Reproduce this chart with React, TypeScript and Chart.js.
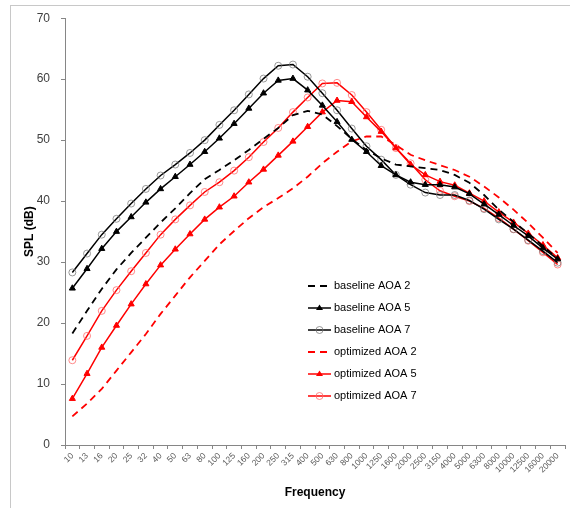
import React, { useEffect, useRef } from "react";
import { Chart, registerables } from "chart.js";

Chart.register(...registerables);

const frequencies = [
  "10", "13", "16", "20", "25", "32", "40", "50", "63", "80", "100", "125", "160", "200", "250", "315", "400",
  "500", "630", "800", "1000", "1250", "1600", "2000", "2500", "3150", "4000", "5000", "6300", "8000", "10000",
  "12500", "16000", "20000",
];

const baselineAoa2 = [
  18.3, 22.0, 25.6, 28.8, 31.5, 34.0, 36.5, 38.8, 41.3, 43.6, 45.1, 46.7, 48.4, 50.2, 52.0, 54.1, 54.8,
  54.2, 52.3, 50.2, 48.4, 47.0, 46.0, 45.7, 45.4, 45.1, 44.3, 43.0, 41.0, 38.6, 36.6, 34.7, 32.6, 30.6,
];
const baselineAoa5 = [
  25.7, 28.9, 32.2, 35.0, 37.4, 39.8, 42.0, 44.0, 46.0, 48.1, 50.3, 52.7, 55.2, 57.7, 59.8, 60.1, 58.2,
  55.7, 53.0, 50.1, 48.1, 45.8, 44.3, 43.1, 42.7, 42.7, 42.3, 41.2, 39.5, 37.8, 36.0, 34.3, 32.3, 30.5,
];
const baselineAoa7 = [
  28.3, 31.4, 34.5, 37.1, 39.6, 42.0, 44.2, 46.0, 47.9, 50.0, 52.5, 54.9, 57.5, 60.1, 62.2, 62.4, 60.4,
  57.7, 54.9, 51.9, 49.0, 46.8, 44.3, 42.7, 41.4, 41.0, 41.0, 40.1, 38.7, 37.0, 35.4, 33.6, 31.8, 29.9,
];
const optimizedAoa2 = [
  4.7, 6.8, 9.2, 12.2, 15.2, 18.2, 21.5, 24.5, 27.5, 30.2, 32.9, 35.1, 37.2, 39.0, 40.5, 42.1, 44.0,
  46.2, 48.1, 49.8, 50.6, 50.6, 49.2, 47.6, 46.7, 45.9, 45.1, 44.0, 42.4, 40.6, 38.6, 36.4, 34.0, 31.5,
];
const optimizedAoa5 = [
  7.6, 11.7, 16.0, 19.6, 23.1, 26.4, 29.5, 32.1, 34.6, 37.0, 39.0, 40.8, 43.1, 45.2, 47.5, 49.8, 52.2,
  54.6, 56.5, 56.3, 53.8, 51.4, 48.7, 46.0, 44.3, 43.2, 42.6, 41.3, 40.0, 38.2, 36.5, 34.7, 32.8, 30.7,
];
const optimizedAoa7 = [
  13.9, 17.9, 22.0, 25.4, 28.5, 31.5, 34.5, 37.0, 39.3, 41.5, 43.1, 45.0, 47.2, 49.7, 52.0, 54.6, 57.0,
  59.3, 59.4, 57.4, 54.6, 51.7, 48.7, 46.2, 43.5, 41.7, 40.8, 40.0, 38.8, 37.2, 35.4, 33.5, 31.6, 29.6,
];

const seriesLabels = [
  "baseline AOA 2",
  "baseline AOA 5",
  "baseline AOA 7",
  "optimized AOA 2",
  "optimized AOA 5",
  "optimized AOA 7",
];

const FONT = "'Liberation Sans', Arial, Helvetica, sans-serif";
const BLACK = "#000000";
const RED = "#ff0000";
const AXIS_GRAY = "#868686";

function drawMarker(ctx: CanvasRenderingContext2D, style: string, x: number, y: number, r: number, fill: string, stroke: string) {
  ctx.save();
  ctx.setLineDash([]);
  ctx.beginPath();
  if (style === "triangle") {
    const h = r * 1.5;
    ctx.moveTo(x, y - r);
    ctx.lineTo(x + h * 0.58 * 1.15, y + r * 0.6);
    ctx.lineTo(x - h * 0.58 * 1.15, y + r * 0.6);
    ctx.closePath();
    ctx.fillStyle = fill;
    ctx.fill();
  } else {
    ctx.arc(x, y, r, 0, Math.PI * 2);
    ctx.strokeStyle = stroke;
    ctx.lineWidth = 1;
    ctx.stroke();
  }
  ctx.restore();
}

const frameAndLegend = {
  id: "frameAndLegend",
  beforeDraw(chart: any) {
    const ctx = chart.ctx as CanvasRenderingContext2D;
    ctx.save();
    ctx.fillStyle = "#ffffff";
    ctx.fillRect(0, 0, chart.width, chart.height);
    ctx.strokeStyle = "#c8c8c8";
    ctx.lineWidth = 1;
    ctx.strokeRect(10.5, 5.5, 700, 700);
    ctx.restore();
  },
  afterDraw(chart: any) {
    const ctx = chart.ctx as CanvasRenderingContext2D;
    const x0 = 308;
    const x1 = 331;
    const tx = 334;
    const y0 = 286;
    const dy = 22;
    chart.data.datasets.forEach((ds: any, i: number) => {
      const y = y0 + i * dy;
      ctx.save();
      ctx.strokeStyle = ds.borderColor;
      ctx.lineWidth = ds.borderWidth;
      ctx.setLineDash(ds.borderDash || []);
      ctx.beginPath();
      ctx.moveTo(x0, y);
      ctx.lineTo(x1, y);
      ctx.stroke();
      ctx.restore();
      if (ds.pointRadius > 0) {
        drawMarker(ctx, ds.pointStyle, (x0 + x1) / 2, y, ds.pointRadius, ds.pointBackgroundColor, ds.pointBorderColor);
      }
      ctx.save();
      ctx.fillStyle = "#000000";
      ctx.font = `11px ${FONT}`;
      ctx.textBaseline = "middle";
      ctx.textAlign = "left";
      ctx.fillText(ds.label, tx, y);
      ctx.restore();
    });
  },
};

export default function App() {
  const canvasRef = useRef<HTMLCanvasElement | null>(null);

  useEffect(() => {
    const canvas = canvasRef.current;
    if (!canvas) return;

    const common = { fill: false, tension: 0, pointHoverRadius: 0 };

    const chart = new Chart(canvas, {
      type: "line",
      data: {
        labels: frequencies,
        datasets: [
          {
            ...common,
            label: seriesLabels[0],
            data: baselineAoa2,
            borderColor: BLACK,
            borderWidth: 1.8,
            borderDash: [7, 5],
            pointRadius: 0,
          },
          {
            ...common,
            label: seriesLabels[1],
            data: baselineAoa5,
            borderColor: BLACK,
            borderWidth: 1.5,
            pointStyle: "triangle",
            pointRadius: 3.5,
            pointBackgroundColor: BLACK,
            pointBorderColor: BLACK,
            pointBorderWidth: 1,
          },
          {
            ...common,
            label: seriesLabels[2],
            data: baselineAoa7,
            borderColor: BLACK,
            borderWidth: 1.5,
            pointStyle: "circle",
            pointRadius: 3.5,
            pointBackgroundColor: "rgba(255,255,255,0)",
            pointBorderColor: "rgba(120,120,120,0.75)",
            pointBorderWidth: 1,
          },
          {
            ...common,
            label: seriesLabels[3],
            data: optimizedAoa2,
            borderColor: RED,
            borderWidth: 1.8,
            borderDash: [7, 5],
            pointRadius: 0,
          },
          {
            ...common,
            label: seriesLabels[4],
            data: optimizedAoa5,
            borderColor: RED,
            borderWidth: 1.5,
            pointStyle: "triangle",
            pointRadius: 3.5,
            pointBackgroundColor: RED,
            pointBorderColor: RED,
            pointBorderWidth: 1,
          },
          {
            ...common,
            label: seriesLabels[5],
            data: optimizedAoa7,
            borderColor: RED,
            borderWidth: 1.5,
            pointStyle: "circle",
            pointRadius: 3.5,
            pointBackgroundColor: "rgba(255,255,255,0)",
            pointBorderColor: "rgba(255,110,110,0.8)",
            pointBorderWidth: 1,
          },
        ],
      },
      options: {
        animation: false,
        responsive: false,
        maintainAspectRatio: false,
        events: [],
        layout: { padding: { left: 18, right: 5, top: 16, bottom: 4 } },
        plugins: {
          legend: { display: false },
          tooltip: { enabled: false },
          title: { display: false },
        },
        scales: {
          x: {
            type: "category",
            offset: true,
            afterFit: (scale: any) => {
              scale.height = 59;
            },
            grid: {
              display: true,
              offset: true,
              drawOnChartArea: false,
              drawTicks: true,
              tickLength: 4,
              color: AXIS_GRAY,
            },
            border: { display: true, color: AXIS_GRAY, width: 1 },
            ticks: {
              autoSkip: false,
              minRotation: 45,
              maxRotation: 45,
              padding: 2,
              color: "#595959",
              font: { family: FONT, size: 8.5 },
            },
            title: {
              display: true,
              text: "Frequency",
              color: "#000000",
              padding: { top: 0, bottom: 4 },
              font: { family: FONT, size: 12, weight: "bold" },
            },
          },
          y: {
            min: 0,
            max: 70,
            afterFit: (scale: any) => {
              scale.width = 47;
            },
            grid: {
              display: true,
              drawOnChartArea: false,
              drawTicks: true,
              tickLength: 4,
              color: AXIS_GRAY,
            },
            border: { display: true, color: AXIS_GRAY, width: 1 },
            ticks: {
              stepSize: 10,
              padding: 11,
              color: "#404040",
              font: { family: FONT, size: 12 },
            },
            title: {
              display: true,
              text: "SPL (dB)",
              color: "#000000",
              padding: { top: 4, bottom: 0 },
              font: { family: FONT, size: 12, weight: "bold" },
            },
          },
        },
      },
      plugins: [frameAndLegend],
    } as any);

    return () => {
      chart.destroy();
    };
  }, []);

  return (
    <div style={{ position: "fixed", left: 0, top: 0, width: 570, height: 508, background: "#ffffff" }}>
      <canvas ref={canvasRef} width={570} height={508} style={{ display: "block", width: 570, height: 508 }} />
    </div>
  );
}
